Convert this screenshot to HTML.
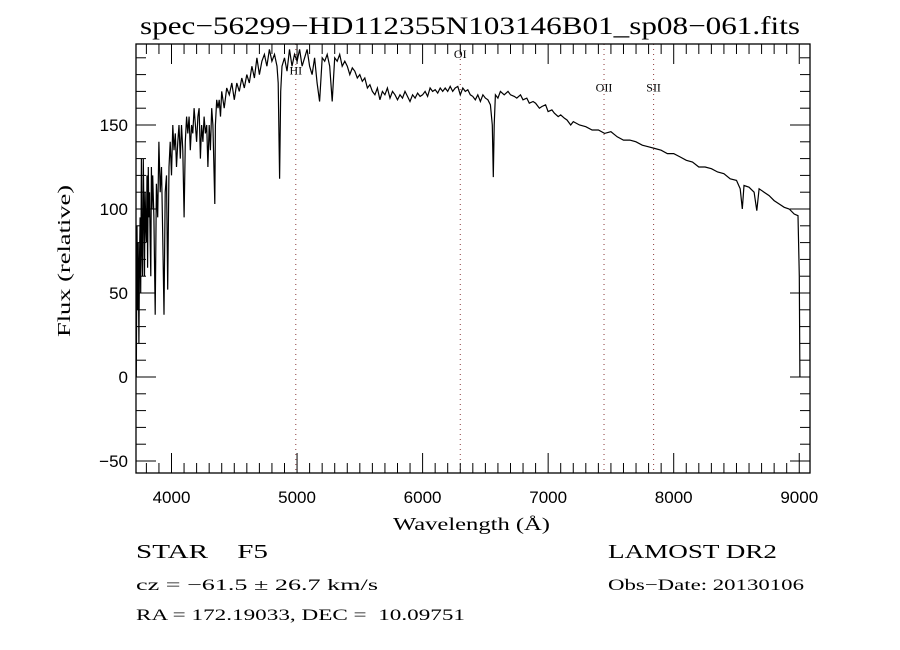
<!DOCTYPE html>
<html><head><meta charset="utf-8"><style>
body{margin:0;background:#fff;}
svg{display:block;}
</style></head><body>
<svg id="chart" width="900" height="650" xmlns="http://www.w3.org/2000/svg" font-family="Liberation Serif, serif">
<rect width="900" height="650" fill="#fff"/>
<text x="140" y="34" font-size="25" textLength="660" lengthAdjust="spacingAndGlyphs">spec−56299−HD112355N103146B01_sp08−061.fits</text>
<g id="grid"></g>
<g id="axes"></g>
<path id="spec" fill="none" stroke="#000" stroke-width="1.2"/>
<rect x="136" y="44" width="674" height="429" fill="none" stroke="#000" stroke-width="1.3"/>
<text x="393" y="530" font-size="18" textLength="157" lengthAdjust="spacingAndGlyphs">Wavelength (Å)</text>
<text transform="translate(70,337) rotate(-90)" font-size="18" textLength="152" lengthAdjust="spacingAndGlyphs">Flux (relative)</text>
<text x="136" y="558" font-size="20" textLength="132" lengthAdjust="spacingAndGlyphs" xml:space="preserve">STAR    F5</text>
<text x="608" y="558" font-size="20" textLength="169" lengthAdjust="spacingAndGlyphs">LAMOST DR2</text>
<text x="136" y="590" font-size="16" textLength="242" lengthAdjust="spacingAndGlyphs">cz = −61.5 ± 26.7 km/s</text>
<text x="608" y="590" font-size="16" textLength="196" lengthAdjust="spacingAndGlyphs">Obs−Date: 20130106</text>
<text x="136" y="620" font-size="16" textLength="329" lengthAdjust="spacingAndGlyphs" xml:space="preserve">RA = 172.19033, DEC =  10.09751</text>
</svg>
<script>
const wavelengths=[3720,3725,3730,3735,3740,3745,3750,3755,3760,3765,3770,3775,3780,3785,3790,3795,3800,3805,3810,3815,3820,3825,3830,3835,3840,3845,3850,3860,3870,3880,3890,3900,3910,3920,3930,3940,3950,3960,3970,3980,3990,4000,4010,4020,4030,4040,4050,4060,4070,4080,4090,4100,4110,4120,4130,4140,4150,4160,4170,4180,4190,4200,4210,4220,4230,4240,4250,4260,4270,4280,4290,4300,4310,4320,4330,4345,4350,4360,4370,4380,4390,4400,4420,4440,4460,4480,4500,4520,4540,4560,4580,4600,4620,4640,4660,4680,4700,4720,4740,4760,4780,4800,4820,4840,4850,4861,4870,4880,4900,4920,4940,4960,4980,5000,5020,5040,5060,5080,5100,5120,5140,5160,5180,5200,5220,5240,5260,5280,5300,5320,5340,5360,5380,5400,5420,5440,5460,5480,5500,5520,5540,5560,5580,5600,5620,5640,5660,5680,5700,5720,5740,5760,5780,5800,5820,5840,5860,5880,5900,5920,5940,5960,5980,6000,6020,6040,6060,6080,6100,6120,6140,6160,6180,6200,6220,6240,6260,6280,6300,6320,6340,6360,6380,6400,6420,6440,6460,6480,6500,6520,6540,6555,6563,6570,6580,6600,6620,6650,6680,6700,6730,6750,6780,6800,6830,6850,6880,6900,6930,6950,6980,7000,7030,7050,7080,7100,7130,7150,7180,7200,7250,7300,7350,7400,7450,7500,7550,7600,7650,7700,7750,7800,7850,7900,7950,8000,8050,8100,8150,8200,8250,8300,8350,8400,8450,8500,8530,8546,8560,8600,8640,8662,8680,8720,8760,8800,8840,8880,8920,8960,8990,9000,9005];
const fluxes=[0,90,40,80,20,70,95,50,130,75,60,130,100,60,110,90,80,120,65,125,95,110,80,60,125,100,120,95,37,115,95,140,110,125,85,37,110,120,52,125,140,120,150,135,145,125,140,150,130,150,135,95,140,155,145,155,135,150,145,160,150,140,155,160,130,150,140,155,145,150,125,150,135,160,150,103,150,165,160,165,155,170,160,172,168,175,165,175,170,178,172,180,175,185,178,190,180,188,192,185,195,188,192,185,175,118,170,185,190,182,195,185,192,188,195,185,190,195,185,180,190,175,164,190,188,192,185,164,190,188,192,185,188,185,180,184,182,178,180,176,178,172,174,170,168,172,165,170,168,172,166,170,168,165,168,166,170,167,164,168,166,169,167,168,170,167,172,170,171,169,172,170,172,170,173,170,172,173,168,172,170,171,168,167,165,168,164,168,166,165,162,150,119,150,168,166,170,168,170,168,167,166,168,165,166,163,164,163,160,161,162,158,159,157,155,156,154,153,150,152,150,149,147,147,145,146,143,141,141,140,138,137,136,135,133,133,131,129,128,125,125,124,122,121,118,117,112,100,114,113,110,99,112,110,108,105,103,101,100,97,96,60,0];
const yTicks=[-50,0,50,100,150];
const xTicks=[4000,5000,6000,7000,8000,9000];
const lineNames=["HI","OI","OII","SII"];
const lineWaves=[4990,6300,7445,7840];
const lineLabelFlux=[180,190,170,170];

const X0=136,X1=810,Y0=44,Y1=473;
const xs=w=>171.5+(w-4000)*0.12555;
const ys=f=>377-f*1.68;
const NS="http://www.w3.org/2000/svg";
const axes=document.getElementById('axes');
const grid=document.getElementById('grid');
function mk(tag,attrs,parent){const e=document.createElementNS(NS,tag);for(const k in attrs)e.setAttribute(k,attrs[k]);parent.appendChild(e);return e;}
for(let v=-50;v<=190;v+=10){
  const y=ys(v); if(y<Y0||y>Y1) continue;
  const len=(v%50===0)?20:10;
  const t1=mk('line',{x1:X0,x2:X0+len,y1:y,y2:y,stroke:'#000','stroke-width':1},axes);
  
  
  const t2=mk('line',{x1:X1,x2:X1-len,y1:y,y2:y,stroke:'#000','stroke-width':1},axes);
  
  
}
yTicks.forEach(v=>{
  const t=mk('text',{x:X0-8,y:ys(v)+6,'text-anchor':'end','font-size':17,'font-family':'Liberation Sans, sans-serif'},axes);
  t.textContent=(v<0?'−':'')+Math.abs(v);
  
  
});
for(let w=3800;w<=9000;w+=100){
  const x=xs(w); if(x<X0||x>X1) continue;
  const len=(w%1000===0)?20:10;
  const a=mk('line',{x1:x,x2:x,y1:Y1,y2:Y1-len,stroke:'#000','stroke-width':1},axes);
  
  
  const b=mk('line',{x1:x,x2:x,y1:Y0,y2:Y0+len,stroke:'#000','stroke-width':1},axes);
  
  
}
xTicks.forEach(w=>{
  const t=mk('text',{x:xs(w),y:503,'text-anchor':'middle','font-size':17,'font-family':'Liberation Sans, sans-serif'},axes);
  t.textContent=w;
  
  
});
lineNames.forEach((n,i)=>{
  const x=xs(lineWaves[i]);
  const l=mk('line',{x1:x,x2:x,y1:Y0,y2:Y1,stroke:'#8b3a3a','stroke-width':1,'stroke-dasharray':'1,4'},grid);
  
  
  const t=mk('text',{x:x,y:ys(lineLabelFlux[i]),'text-anchor':'middle','font-size':12},grid);
  t.textContent=n;
  
  
});
let d='';
wavelengths.forEach((w,i)=>{d+=(i?'L':'M')+xs(w).toFixed(1)+' '+Math.max(Y0,Math.min(Y1,ys(fluxes[i]))).toFixed(1);});
document.getElementById('spec').setAttribute('d',d);
</script>
</body></html>
